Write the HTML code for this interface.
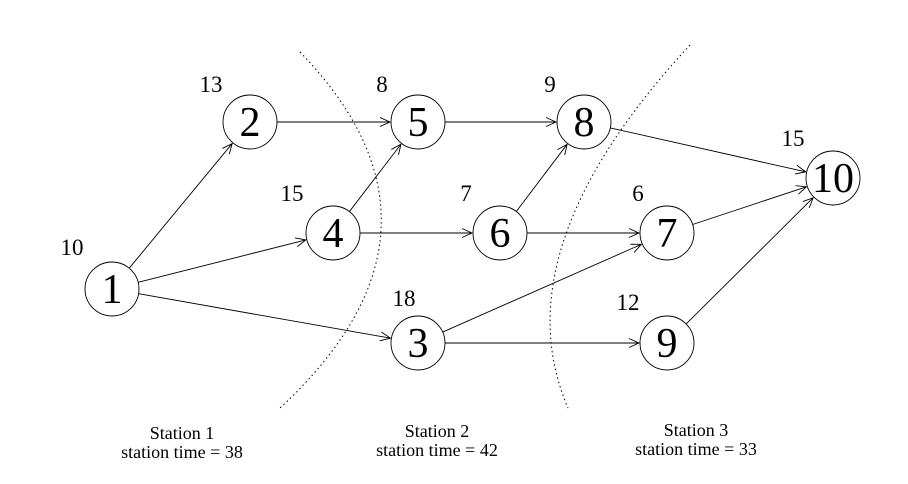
<!DOCTYPE html>
<html><head><meta charset="utf-8"><style>
html,body{margin:0;padding:0;background:#fff;}
svg, svg text{font-family:"Liberation Serif","DejaVu Serif",serif;}
svg{display:block;}
</style></head><body>
<svg id="s" width="908" height="484" viewBox="0 0 908 484" xmlns="http://www.w3.org/2000/svg" font-family="Liberation Serif, serif">
<path d="M300,52 Q472,230 280,408" fill="none" stroke="#000" stroke-width="1" stroke-dasharray="1.5,3"/>
<path d="M690,45 Q500,250 568,408" fill="none" stroke="#000" stroke-width="1" stroke-dasharray="1.5,3"/>
<g id="edges" stroke="#000" stroke-width="0.9" fill="none"></g>
<g id="nodes" font-family="Liberation Serif, serif"></g>
<g font-size="23" fill="#000" font-family="Liberation Serif, serif">
<text x="72" y="255" text-anchor="middle">10</text>
<text x="211" y="92" text-anchor="middle">13</text>
<text x="382" y="92" text-anchor="middle">8</text>
<text x="550" y="92" text-anchor="middle">9</text>
<text x="793" y="146" text-anchor="middle">15</text>
<text x="292" y="201" text-anchor="middle">15</text>
<text x="466" y="201" text-anchor="middle">7</text>
<text x="638" y="201" text-anchor="middle">6</text>
<text x="404" y="306" text-anchor="middle">18</text>
<text x="628" y="310" text-anchor="middle">12</text>
</g>
<g font-size="18" fill="#000" text-anchor="middle" font-family="Liberation Serif, serif">
<text x="182" y="439">Station 1</text>
<text x="182" y="458">station time = 38</text>
<text x="437" y="437">Station 2</text>
<text x="437" y="456">station time = 42</text>
<text x="696" y="436">Station 3</text>
<text x="696" y="455">station time = 33</text>
</g>
</svg>
<script>
var N={1:[112,289],2:[250,122],5:[418,122],8:[584,122],10:[833,178],4:[333,233],6:[500,233],7:[667,233],3:[418,343],9:[667,343]};
var R=27,ns="http://www.w3.org/2000/svg";
var E=[[1,2],[1,4],[1,3],[2,5],[4,5],[4,6],[5,8],[6,8],[6,7],[3,7],[3,9],[8,10],[7,10],[9,10]];
var eg=document.getElementById('edges'),ng=document.getElementById('nodes');
E.forEach(function(e){
 var a=N[e[0]],b=N[e[1]],dx=b[0]-a[0],dy=b[1]-a[1],L=Math.hypot(dx,dy),ux=dx/L,uy=dy/L;
 var x1=a[0]+ux*R,y1=a[1]+uy*R,x2=b[0]-ux*(R+1),y2=b[1]-uy*(R+1);
 var p=document.createElementNS(ns,'path');
 var hl=10,hw=4.5;
 var bx=x2-ux*hl,by=y2-uy*hl;
 p.setAttribute('d','M'+x1+','+y1+'L'+x2+','+y2+'M'+(bx-uy*hw)+','+(by+ux*hw)+'L'+x2+','+y2+'L'+(bx+uy*hw)+','+(by-ux*hw));
 eg.appendChild(p);
});
for(var k in N){
 var c=document.createElementNS(ns,'circle');
 c.setAttribute('cx',N[k][0]);c.setAttribute('cy',N[k][1]);c.setAttribute('r',R);
 c.setAttribute('fill','#fff');c.setAttribute('stroke','#000');c.setAttribute('stroke-width','0.9');
 ng.appendChild(c);
 var t=document.createElementNS(ns,'text');
 t.setAttribute('x',N[k][0]);t.setAttribute('y',N[k][1]+14);t.setAttribute('text-anchor','middle');
 t.setAttribute('font-family','Liberation Serif, serif');
 t.setAttribute('font-size','42');t.textContent=k;ng.appendChild(t);
}
</script>
</body></html>
